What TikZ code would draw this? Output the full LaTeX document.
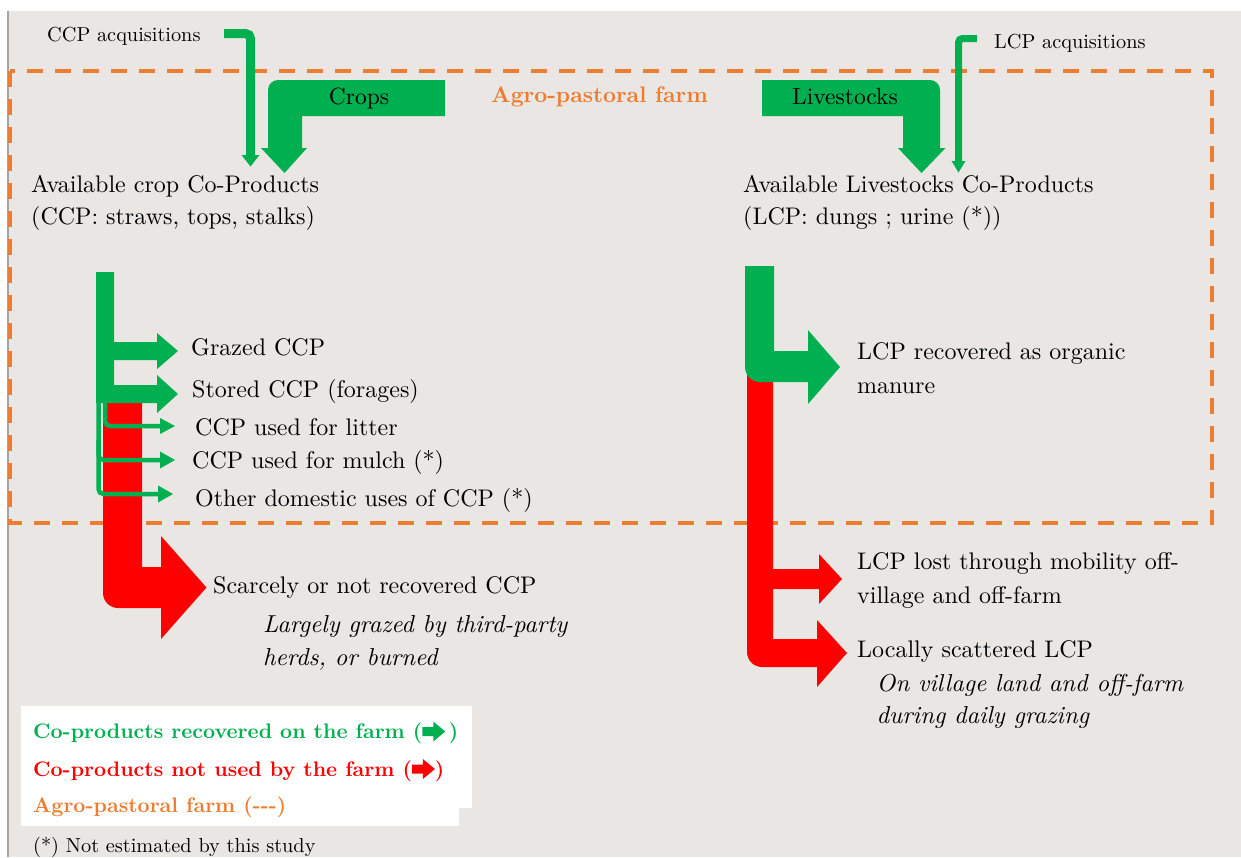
\documentclass[tikz,border=0pt]{standalone}
\usepackage{fontspec}
\setmainfont{lmroman10-regular.otf}[BoldFont=lmroman10-bold.otf, ItalicFont=lmroman10-italic.otf, BoldItalicFont=lmroman10-bolditalic.otf]
\definecolor{bggray}{RGB}{233,230,228}
\definecolor{fgreen}{RGB}{0,176,80}
\definecolor{fred}{RGB}{255,0,0}
\definecolor{forange}{RGB}{237,125,49}
\definecolor{bordergray}{RGB}{165,165,165}
\newcommand{\legendarrow}[1]{\tikz[baseline=-7pt,x=1pt,y=1pt]\fill[#1] (0,-4.5)--(11,-4.5)--(11,-10)--(23,0)--(11,10)--(11,4.5)--(0,4.5)--cycle;}
\tikzset{
  txt/.style={anchor=base west, inner sep=0pt, font=\fontsize{24}{29}\selectfont},
  itxt/.style={anchor=base west, inner sep=0pt, font=\fontsize{24.5}{29}\selectfont\itshape},
  smalltxt/.style={anchor=base west, inner sep=0pt, font=\fontsize{20.3}{24}\selectfont},
  bartxt/.style={anchor=base, inner sep=0pt, font=\fontsize{23.5}{28}\selectfont},
  legtxt/.style={anchor=base west, inner sep=0pt, font=\fontsize{21}{25}\selectfont\bfseries},
  flowgreen/.style={fill=fgreen},
  flowred/.style={fill=fred},
  thinflow/.style={draw=fgreen, line width=4.5pt, rounded corners=5pt},
  farmline/.style={draw=forange, line width=4pt, dash pattern=on 16pt off 12pt}
}
\begin{document}
\begin{tikzpicture}[x=1pt,y=-1pt]
\useasboundingbox (0,0) rectangle (1241,857);
\fill[white] (0,0) rectangle (1241,857);
\fill[bggray] (8,11) rectangle (1241,857);
\draw[bordergray, line width=1.5pt] (8,11) -- (8,857);

% farm boundary
\draw[farmline] (10,70.5) rectangle (1212,523);

% big input arrows
\fill[flowgreen] (445,80) -- (278,80) arc[start angle=-90,end angle=-180,radius=10] -- (268,148) -- (261,148) -- (284.5,173) -- (307,148) -- (302,148) -- (302,116) -- (445,116) -- cycle;
\fill[flowgreen] (762,80) -- (930,80) arc[start angle=-90,end angle=0,radius=10] -- (940,148) -- (945.5,148) -- (921.5,173) -- (898,148) -- (903,148) -- (903,116) -- (762,116) -- cycle;
\node[bartxt] (crops) at (359,104) {Crops};
\node[bartxt] (livestocks) at (845,104.5) {Livestocks};

% acquisitions
\node[smalltxt] (ccpacq) at (47,41.5) {CCP acquisitions};
\node[smalltxt] (lcpacq) at (994,48) {LCP acquisitions};
\coordinate (ccpacqstart) at (224,33.5);
\coordinate (lcpacqstart) at (977,38.5);
\draw[fgreen, line width=9pt, rounded corners=5pt] (ccpacqstart) -- (250.5,33.5) -- (250.5,156);
\fill[fgreen] (241.5,155) -- (259.5,155) -- (250.5,166.5) -- cycle;
\draw[fgreen, line width=7pt, rounded corners=4pt] (lcpacqstart) -- (958.5,38.5) -- (958.5,162);
\fill[fgreen] (951.5,161) -- (965.5,161) -- (958.5,172.5) -- cycle;

\node[anchor=base west, inner sep=0pt, font=\fontsize{22.5}{27}\selectfont\bfseries, text=forange] (farm) at (491,102) {Agro-pastoral farm};

% available co-products
\node[txt] (avc1) at (31,192.5) {Available crop Co-Products};
\node[txt] (avc2) at (31,224) {(CCP: straws, tops, stalks)};
\node[txt] (avl1) at (743,192.5) {Available Livestocks Co-Products};
\node[txt] (avl2) at (743,224) {(LCP: dungs ; urine (*))};

% left cluster
\fill[flowred] (103,403) -- (142,403) -- (142,567) -- (161,567) -- (161,536) -- (206.5,587.5) -- (161,639) -- (161,608) -- (118,608) arc[start angle=90,end angle=180,radius=15] -- cycle;
\fill[flowgreen] (96,272) -- (114,272) -- (114,342) -- (157,342) -- (157,333) -- (178,351) -- (157,369) -- (157,360) -- (114,360) -- (114,385) -- (157,385) -- (157,375) -- (178,394) -- (157,413) -- (157,403) -- (96,403) -- cycle;
\draw[thinflow] (105,400) -- (105,426) -- (161,426);
\fill[fgreen] (160,418) -- (175,426) -- (160,434) -- cycle;
\draw[thinflow] (98.5,400) -- (98.5,494) -- (159,494);
\fill[fgreen] (158,485.5) -- (173,494) -- (158,502.5) -- cycle;
\draw[thinflow] (98.5,440) -- (98.5,460) -- (161,460);
\fill[fgreen] (160,451.5) -- (175,460) -- (160,468.5) -- cycle;

\node[txt] (grazed) at (191,355) {Grazed CCP};
\node[txt] (stored) at (192,397.5) {Stored CCP (forages)};
\node[txt] (litter) at (195,435) {CCP used for litter};
\node[txt] (mulch) at (192,468.5) {CCP used for mulch (*)};
\node[txt] (other) at (195,506) {Other domestic uses of CCP (*)};
\node[txt] (scarce) at (213,593.5) {Scarcely or not recovered CCP};
\node[itxt] (scarce2) at (263,632.5) {Largely grazed by third-party};
\node[itxt] (scarce3) at (263,665) {herds, or burned};

% right cluster
\fill[flowred] (747,370) -- (773,370) -- (773,569) -- (819,569) -- (819,554) -- (842,579) -- (819,604) -- (819,589) -- (773,589) -- (773,639) -- (817,639) -- (817,620) -- (847,653) -- (817,687) -- (817,667) -- (762,667) arc[start angle=90,end angle=180,radius=15] -- cycle;
\fill[flowgreen] (745,266) -- (774,266) -- (774,351) -- (808,351) -- (808,330) -- (840,367) -- (808,404) -- (808,382) -- (760,382) arc[start angle=90,end angle=180,radius=15] -- cycle;

\node[txt] (manure1) at (857,359.5) {LCP recovered as organic};
\node[txt] (manure2) at (857,393) {manure};
\node[txt] (lost1) at (857,569.5) {LCP lost through mobility off-};
\node[txt] (lost2) at (857,603) {village and off-farm};
\node[txt] (scat) at (857,657.5) {Locally scattered LCP};
\node[itxt] (scat2) at (876.5,691) {On village land and off-farm};
\node[itxt] (scat3) at (876.5,723) {during daily grazing};

% legend
\fill[white] (21,706) -- (472,706) -- (472,808) -- (459,808) -- (459,826) -- (21,826) -- cycle;
\node[legtxt, text=fgreen] (leg1) at (33,738.5) {Co-products recovered on the farm (\legendarrow{fgreen}\,)};
\node[legtxt, text=fred] (leg2) at (33,776) {Co-products not used by the farm (\legendarrow{fred})};
\node[legtxt, text=forange] (leg3) at (33,812.5) {Agro-pastoral farm ({-}{-}{-})};
\node[anchor=base west, inner sep=0pt, font=\fontsize{20.3}{24}\selectfont] (note) at (33,852) {(*) Not estimated by this study};
\end{tikzpicture}
\end{document}
